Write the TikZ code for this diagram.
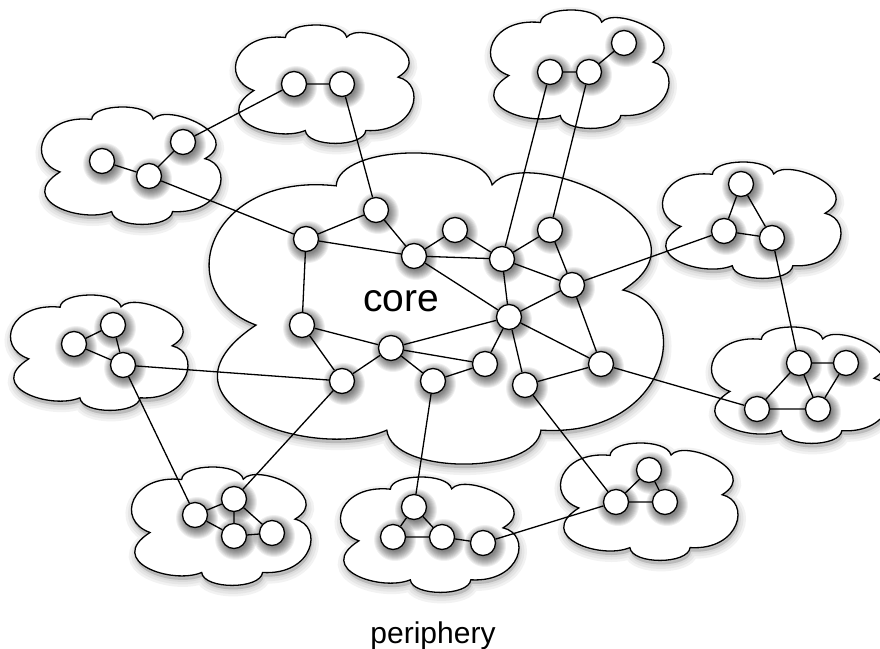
\documentclass[tikz,border=0pt]{standalone}
\usepackage{fontspec}
\setmainfont{Liberation Sans}

\pgfdeclarelayer{cloudlayer}
\pgfdeclarelayer{edgelayer}
\pgfsetlayers{cloudlayer,edgelayer,main}

\tikzset{
  vtx/.style={circle, draw=black, fill=white, line width=1.3pt,
    minimum size=25pt, inner sep=0pt},
  link/.style={line width=1.3pt, draw=black},
  cloudline/.style={draw=black, fill=white, line width=1.3pt},
  softshade/.style={draw=black, draw opacity=0.05, fill=black, fill opacity=0.05},
}

% Outline of a cloud inside the box with top-left corner (#1,#2), width #3, height #4
\newcommand\cloudspec[4]{%
   ({#1+0.096*#3},{#2+0.555*#4})
   .. controls ({#1-0.10*#3},{#2+0.45*#4}) and ({#1-0.01*#3},{#2+0.06*#4}) .. ({#1+0.275*#3},{#2+0.106*#4})
   .. controls ({#1+0.28*#3},{#2-0.03*#4}) and ({#1+0.60*#3},{#2-0.04*#4}) .. ({#1+0.623*#3},{#2+0.103*#4})
   .. controls ({#1+0.70*#3},{#2-0.04*#4}) and ({#1+1.14*#3},{#2+0.24*#4}) .. ({#1+0.915*#3},{#2+0.442*#4})
   .. controls ({#1+1.08*#3},{#2+0.50*#4}) and ({#1+1.02*#3},{#2+0.92*#4}) .. ({#1+0.732*#3},{#2+0.894*#4})
   .. controls ({#1+0.72*#3},{#2+1.04*#4}) and ({#1+0.40*#3},{#2+1.04*#4}) .. ({#1+0.388*#3},{#2+0.894*#4})
   .. controls ({#1+0.22*#3},{#2+1.00*#4}) and ({#1-0.16*#3},{#2+0.80*#4}) .. cycle}

% Cloud with a soft shadow below it
\newcommand\puffcloud[4]{%
  \begin{scope}[shift={(1,4)}]
    \foreach \w in {14,9,4} {\path[softshade, line width=\w pt] \cloudspec{#1}{#2}{#3}{#4};}
  \end{scope}
  \path[cloudline] \cloudspec{#1}{#2}{#3}{#4};
}

% Vertex with a soft drop shadow
\newcommand\vertex[3]{%
  \foreach \r in {12,13,...,21} {\fill[black, opacity=0.06] ({#2+2},{#3+3}) circle (\r pt);}
  \node[vtx] (#1) at (#2,#3) {};
}

\begin{document}
\begin{tikzpicture}[x=1pt,y=-1pt]
\useasboundingbox (0,0) rectangle (880,648);

% ---------- clouds ----------
\begin{pgfonlayer}{cloudlayer}
  \puffcloud{213}{153}{448}{310}  % core
  \puffcloud{237}{25}{176}{118}
  \puffcloud{43}{107}{177}{117}
  \puffcloud{492}{10}{176}{118}
  \puffcloud{664}{162}{176}{116}
  \puffcloud{713}{327}{176}{116}
  \puffcloud{562}{443}{175}{117}
  \puffcloud{342}{477}{176}{115}
  \puffcloud{133}{467}{177}{118}
  \puffcloud{12}{295}{175}{115}
\end{pgfonlayer}

% ---------- core vertices ----------
\vertex{c1}{306}{239}
\vertex{c2}{376}{210}
\vertex{c3}{414}{256}
\vertex{c4}{455}{230}
\vertex{c5}{502}{259}
\vertex{c6}{550}{230}
\vertex{c7}{572}{285}
\vertex{c8}{509}{317}
\vertex{c9}{302}{325}
\vertex{c10}{391}{348}
\vertex{c11}{342}{381}
\vertex{c12}{433}{381}
\vertex{c13}{485}{364}
\vertex{c14}{525}{385}
\vertex{c15}{601}{364}

% ---------- peripheral vertices ----------
\vertex{a1}{294}{84}
\vertex{a2}{342}{84}

\vertex{b1}{102}{161}
\vertex{b2}{149}{176}
\vertex{b3}{183}{142}

\vertex{p1}{550}{72}
\vertex{p2}{589}{72}
\vertex{p3}{624}{43}

\vertex{d1}{741}{184}
\vertex{d2}{724}{231}
\vertex{d3}{772}{238}

\vertex{e1}{799}{363}
\vertex{e2}{846}{363}
\vertex{e3}{757}{409}
\vertex{e4}{818}{409}

\vertex{f1}{616}{502}
\vertex{f2}{649}{470}
\vertex{f3}{665}{502}

\vertex{g1}{414}{507}
\vertex{g2}{393}{537}
\vertex{g3}{442}{537}
\vertex{g4}{483}{543}

\vertex{h1}{195}{515}
\vertex{h2}{234}{499}
\vertex{h3}{234}{536}
\vertex{h4}{272}{533}

\vertex{k1}{74}{344}
\vertex{k2}{113}{325}
\vertex{k3}{123}{365}

% ---------- edges ----------
\begin{pgfonlayer}{edgelayer}
  % inside the core
  \draw[link] (c1)--(c2) (c1)--(c3) (c1)--(c9) (c2)--(c3) (c3)--(c4)
              (c3)--(c5) (c3)--(c8) (c4)--(c5) (c5)--(c6) (c5)--(c7)
              (c5)--(c8) (c6)--(c7) (c7)--(c8) (c7)--(c15) (c8)--(c10)
              (c8)--(c13) (c8)--(c14) (c8)--(c15) (c9)--(c10) (c9)--(c11)
              (c10)--(c11) (c10)--(c12) (c10)--(c13) (c12)--(c13) (c14)--(c15);
  % inside the peripheral groups
  \draw[link] (a1)--(a2)
              (b1)--(b2) (b2)--(b3)
              (p1)--(p2) (p2)--(p3)
              (d1)--(d2) (d1)--(d3) (d2)--(d3)
              (e1)--(e2) (e1)--(e3) (e1)--(e4) (e2)--(e4) (e3)--(e4)
              (f1)--(f2) (f1)--(f3) (f2)--(f3)
              (g1)--(g2) (g1)--(g3) (g2)--(g3) (g3)--(g4)
              (h1)--(h2) (h1)--(h3) (h2)--(h3) (h2)--(h4) (h3)--(h4)
              (k1)--(k2) (k1)--(k3) (k2)--(k3);
  % between groups
  \draw[link] (a2)--(c2) (a1)--(b3) (b2)--(c1)
              (p1)--(c5) (p2)--(c6)
              (d2)--(c7) (d3)--(e1)
              (e3)--(c15)
              (f1)--(c14) (f1)--(g4)
              (g1)--(c12)
              (h2)--(c11) (h1)--(k3)
              (k3)--(c11);
\end{pgfonlayer}

% ---------- labels ----------
\node[anchor=base, font=\fontsize{39}{40}\selectfont] (corelabel) at (401,311.5) {core};
\node[anchor=base, font=\fontsize{30}{32}\selectfont] (perilabel) at (433,643) {periphery};
\end{tikzpicture}
\end{document}
